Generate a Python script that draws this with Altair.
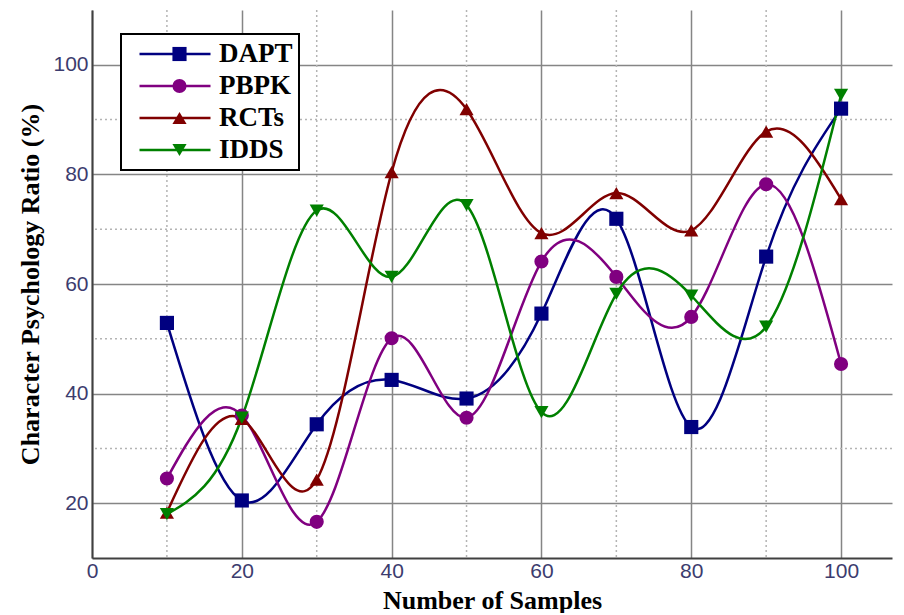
import altair as alt
import pandas as pd

# ---- data ----
x_vals = [10, 20, 30, 40, 50, 60, 70, 80, 90, 100]
series_names = ["DAPT", "PBPK", "RCTs", "IDDS"]
dapt = [52.9, 20.5, 34.4, 42.5, 39.1, 54.6, 71.9, 33.9, 65.0, 92.0]
pbpk = [24.5, 36.0, 16.6, 50.1, 35.6, 64.1, 61.3, 54.0, 78.2, 45.4]
rcts = [18.3, 35.4, 24.3, 80.4, 91.9, 69.3, 76.6, 69.8, 87.8, 75.5]
idds = [18.0, 35.6, 73.4, 61.3, 74.4, 36.6, 58.2, 57.9, 52.2, 94.5]
colors = ["#000080", "#800080", "#800000", "#008000"]
shapes = ["square", "circle", "triangle-up", "triangle-down"]
x_ticks = [0, 20, 40, 60, 80, 100]
y_ticks = [20, 40, 60, 80, 100]
x_minor = [10, 30, 50, 70, 90]
y_minor = [30, 50, 70, 90]

rows = []
for name, vals in zip(series_names, [dapt, pbpk, rcts, idds]):
    for xv, yv in zip(x_vals, vals):
        rows.append({"samples": xv, "ratio": yv, "series": name})
df = pd.DataFrame(rows)

xscale = alt.Scale(domain=[0, 106.8], nice=False, zero=False)
yscale = alt.Scale(domain=[10, 110], nice=False, zero=False)

x_axis = alt.Axis(
    values=x_ticks, grid=True, gridColor="#858585", gridWidth=1.5, ticks=False,
    domainColor="#404040", domainWidth=2, labelFont="Liberation Sans",
    labelFontSize=21, labelColor="#3c3c6e", labelPadding=2, labelFlush=False,
    title="Number of Samples", titleFont="Liberation Serif", titleFontSize=26,
    titleFontWeight="bold", titleColor="black", titlePadding=6, format="d",
)
y_axis = alt.Axis(
    values=y_ticks, grid=True, gridColor="#858585", gridWidth=1.5, ticks=False,
    domainColor="#404040", domainWidth=2, labelFont="Liberation Sans",
    labelFontSize=21, labelColor="#3c3c6e", labelPadding=4, labelFlush=False,
    title="Character Psychology Ratio (%)", titleFont="Liberation Serif",
    titleFontSize=26, titleFontWeight="bold", titleColor="black",
    titlePadding=9, format="d",
)

color_scale = alt.Scale(domain=series_names, range=colors)
shape_scale = alt.Scale(domain=series_names, range=shapes)

line_legend = alt.Legend(
    title=None, orient="none", legendX=29, legendY=24, symbolType="stroke",
    symbolSize=5041, symbolStrokeWidth=2.5, labelFont="Liberation Serif",
    labelFontSize=27, labelFontWeight="bold", labelColor="black",
    labelOffset=7, padding=6, strokeColor="black", fillColor="white",
    cornerRadius=0, clipHeight=28, rowPadding=4, symbolOffset=11, zindex=1,
)
point_legend = alt.Legend(
    title=None, orient="none", legendX=29, legendY=24, symbolSize=200,
    labelFont="Liberation Serif", labelFontSize=27, labelFontWeight="bold",
    labelExpr="''", labelOffset=7, padding=6, clipHeight=28, rowPadding=4,
    symbolOffset=39, zindex=2, symbolOpacity=1,
)

minor_x = alt.Chart(pd.DataFrame({"v": x_minor})).mark_rule(
    color="#b4b4b4", strokeWidth=1.5, strokeDash=[2, 3]
).encode(x=alt.X("v:Q", scale=xscale, axis=x_axis))

minor_y = alt.Chart(pd.DataFrame({"v": y_minor})).mark_rule(
    color="#b4b4b4", strokeWidth=1.5, strokeDash=[2, 3]
).encode(y=alt.Y("v:Q", scale=yscale, axis=y_axis))

lines = alt.Chart(df).mark_line(interpolate="natural", strokeWidth=2.5).encode(
    x=alt.X("samples:Q", scale=xscale, axis=x_axis),
    y=alt.Y("ratio:Q", scale=yscale, axis=y_axis),
    color=alt.Color("series:N", scale=color_scale, legend=line_legend),
)

points = alt.Chart(df).mark_point(filled=True, size=200, opacity=1).encode(
    x=alt.X("samples:Q", scale=xscale, axis=x_axis),
    y=alt.Y("ratio:Q", scale=yscale, axis=y_axis),
    color=alt.Color("series:N", scale=color_scale, legend=point_legend),
    shape=alt.Shape("series:N", scale=shape_scale, legend=point_legend),
)

chart = alt.layer(minor_x, minor_y, lines, points).resolve_legend(
    color="independent", shape="independent"
).properties(
    width=800, height=548,
    padding={"left": 9, "top": 1, "right": 0, "bottom": 0},
).configure_view(strokeWidth=0).configure_legend(strokeWidth=2)

chart.save("out.html", embed_options={"renderer": "svg", "actions": False})
